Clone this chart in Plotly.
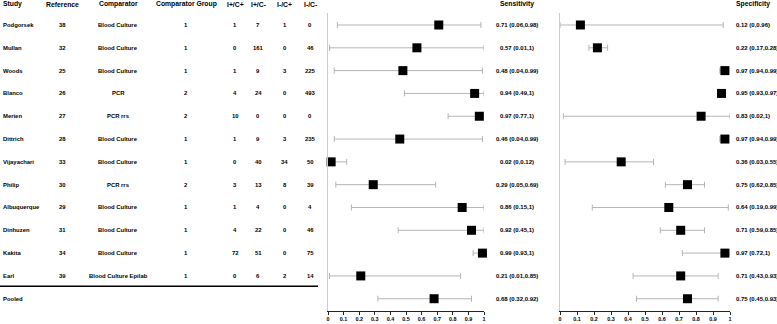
import plotly.graph_objects as go

# ---------------- data ----------------
studies = ["Podgorsek", "Mullan", "Woods", "Blanco", "Merien", "Dittrich", "Vijayachari",
           "Philip", "Albuquerque", "Dinhuzen", "Kakita", "Earl"]
references = [38, 32, 25, 26, 27, 28, 33, 30, 29, 31, 34, 39]
comparators = ["Blood Culture", "Blood Culture", "Blood Culture", "PCR", "PCR rrs", "Blood Culture",
               "Blood Culture", "PCR rrs", "Blood Culture", "Blood Culture", "Blood Culture",
               "Blood Culture Epilab"]
comparator_groups = [1, 1, 1, 2, 2, 1, 1, 2, 1, 1, 1, 1]
tp = [1, 0, 1, 4, 10, 1, 0, 3, 1, 4, 72, 0]          # I+/C+
fp = [7, 161, 9, 24, 0, 9, 40, 13, 4, 22, 51, 6]     # I+/C-
fn = [1, 0, 3, 0, 0, 3, 34, 8, 0, 0, 0, 2]           # I-/C+
tn = [0, 46, 225, 493, 0, 235, 50, 39, 4, 46, 75, 14]  # I-/C-

row_labels = studies + ["Pooled"]

sens = [0.71, 0.57, 0.48, 0.94, 0.97, 0.46, 0.02, 0.29, 0.86, 0.92, 0.99, 0.21, 0.68]
sens_lo = [0.06, 0.01, 0.04, 0.49, 0.77, 0.04, 0, 0.05, 0.15, 0.45, 0.93, 0.01, 0.32]
sens_hi = [0.98, 1, 0.99, 1, 1, 0.99, 0.12, 0.69, 1, 1, 1, 0.85, 0.92]

spec = [0.12, 0.22, 0.97, 0.95, 0.83, 0.97, 0.36, 0.75, 0.64, 0.71, 0.97, 0.71, 0.75]
spec_lo = [0, 0.17, 0.94, 0.93, 0.02, 0.94, 0.03, 0.62, 0.19, 0.59, 0.72, 0.43, 0.45]
spec_hi = [0.96, 0.28, 0.99, 0.97, 1, 0.99, 0.55, 0.85, 0.99, 0.85, 1, 0.93, 0.93]

headers = ["Study", "Reference", "Comparator", "Comparator Group", "I+/C+", "I+/C-", "I-/C+", "I-/C-"]
tick_vals = [0, 0.1, 0.2, 0.3, 0.4, 0.5, 0.6, 0.7, 0.8, 0.9, 1]
tick_text = ["0", "0.1", "0.2", "0.3", "0.4", "0.5", "0.6", "0.7", "0.8", "0.9", "1"]

# ---------------- layout helpers ----------------
W, H = 777, 324
FONT = "Liberation Sans, Arial, sans-serif"
rows = list(range(len(row_labels)))


def px(x):
    return x / W


def py(y):
    return (H - y) / H


def fmt(v):
    return f"{v:g}"


fig = go.Figure()

for xa, ya, val, lo, hi in [("x", "y", sens, sens_lo, sens_hi), ("x2", "y2", spec, spec_lo, spec_hi)]:
    fig.add_trace(go.Scatter(
        x=val, y=rows, xaxis=xa, yaxis=ya, mode="markers",
        marker=dict(symbol="square", size=9, color="black", line=dict(width=0)),
        error_x=dict(type="data", symmetric=False,
                     array=[h - v for h, v in zip(hi, val)],
                     arrayminus=[v - l for v, l in zip(val, lo)],
                     color="#b5b5b5", thickness=1, width=3),
        cliponaxis=False, showlegend=False, hoverinfo="skip"))

yrange = [12.538, -0.526]
ydom = [0.0401, 0.9599]
axis_common = dict(range=[0, 1], showgrid=False, zeroline=False, showline=True, linecolor="#222222",
                   linewidth=1, ticks="outside", ticklen=3, tickwidth=1, tickcolor="#222222",
                   tickvals=tick_vals, ticktext=tick_text,
                   tickfont=dict(family=FONT, size=5.4, color="#000000", weight="bold"))
yaxis_common = dict(range=yrange, domain=ydom, showgrid=False, zeroline=False, showline=True,
                    linecolor="#cccccc", linewidth=1, showticklabels=False, ticks="")

fig.update_layout(
    template="none",
    width=W, height=H, margin=dict(l=0, r=0, t=0, b=0, pad=0),
    paper_bgcolor="white", plot_bgcolor="white",
    xaxis=dict(domain=[px(328), px(484)], anchor="y", **axis_common),
    xaxis2=dict(domain=[px(560), px(730)], anchor="y2", **axis_common),
    yaxis=dict(anchor="x", **yaxis_common),
    yaxis2=dict(anchor="x2", matches="y", **yaxis_common),
)

annotations = []
header_y = py(4.5)
col_x = [1, 62, 118, 186, 235, 258, 284.5, 310]
col_anchor = ["left"] + ["center"] * 7
hfont = dict(family=FONT, size=6.8, color="#000000", weight="bold")
bfont = dict(family=FONT, size=5.9, color="#000000", weight="bold")

for h, cx, anc in zip(headers, col_x, col_anchor):
    annotations.append(dict(text=h, x=px(cx), y=header_y, xref="paper", yref="paper",
                            xanchor=anc, yanchor="middle", showarrow=False, font=hfont))

for i, s in enumerate(studies):
    vals = [s, str(references[i]), comparators[i], str(comparator_groups[i]),
            str(tp[i]), str(fp[i]), str(fn[i]), str(tn[i])]
    for v, cx, anc in zip(vals, col_x, col_anchor):
        annotations.append(dict(text=v, x=px(cx), y=i, xref="paper", yref="y",
                                xanchor=anc, yanchor="middle", showarrow=False, font=bfont))
annotations.append(dict(text="Pooled", x=px(col_x[0]), y=len(studies), xref="paper", yref="y",
                        xanchor="left", yanchor="middle", showarrow=False, font=bfont))

cfont = dict(family=FONT, size=6.0, color="#000000", weight="bold")
annotations.append(dict(text="Sensitivity", x=px(516.5), y=header_y, xref="paper", yref="paper",
                        xanchor="center", yanchor="middle", showarrow=False, font=hfont))
annotations.append(dict(text="Specificity", x=px(734), y=header_y, xref="paper", yref="paper",
                        xanchor="left", yanchor="middle", showarrow=False, font=hfont))
for i in rows:
    annotations.append(dict(text=f"{fmt(sens[i])} ({fmt(sens_lo[i])},{fmt(sens_hi[i])})",
                            x=px(516.5), y=i, xref="paper", yref="y", xanchor="center",
                            yanchor="middle", showarrow=False, font=cfont))
    annotations.append(dict(text=f"{fmt(spec[i])} ({fmt(spec_lo[i])},{fmt(spec_hi[i])})",
                            x=px(733.5), y=i, xref="paper", yref="y", xanchor="left",
                            yanchor="middle", showarrow=False, font=cfont))

fig.update_layout(annotations=annotations)
fig.add_shape(type="line", xref="paper", yref="y", x0=0, x1=px(318), y0=11.45, y1=11.45,
              line=dict(color="black", width=1.5))

fig.write_html("out.html", config={"displayModeBar": False},
               post_script="document.body.style.margin='0px';document.body.style.overflow='hidden';")
